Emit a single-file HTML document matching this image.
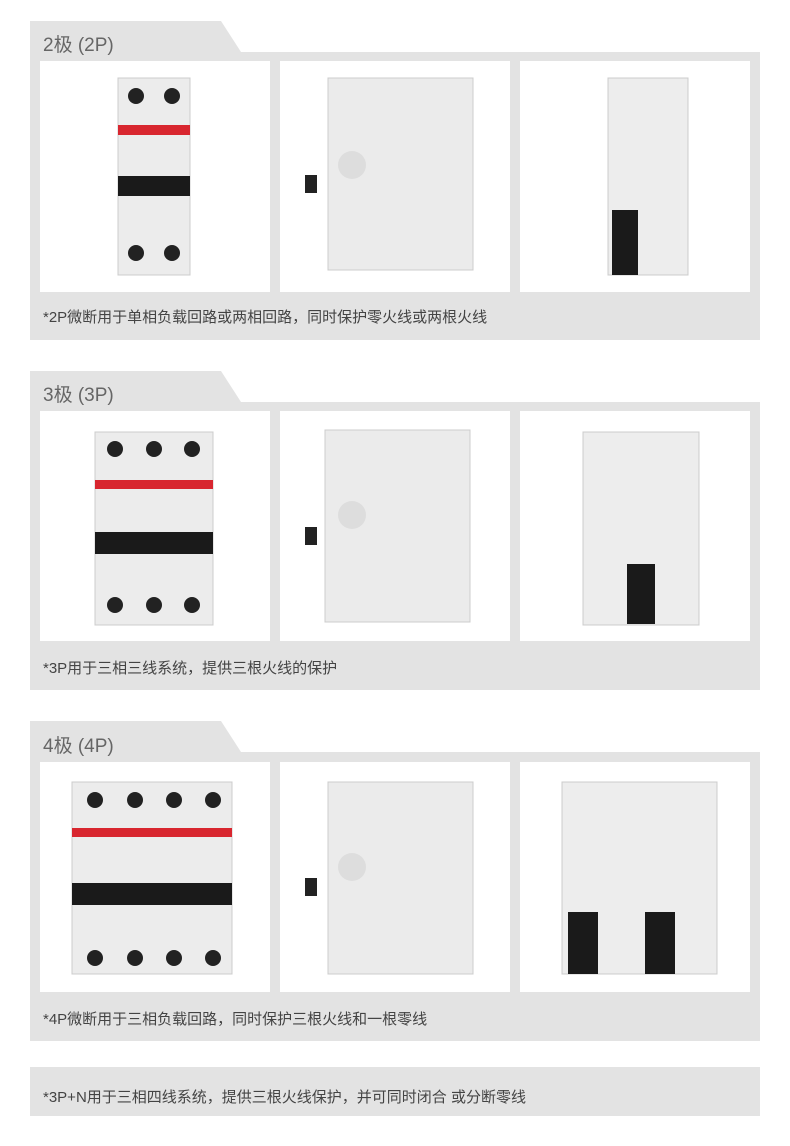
<!DOCTYPE html>
<html><head><meta charset="utf-8"><style>
body{margin:0;background:#fff;width:790px;height:1146px;position:relative;font-family:"Liberation Sans","Noto Sans CJK SC",sans-serif;overflow:hidden}
.a{position:absolute}
.tabt{font-size:19px;color:#666;}
.cap{font-size:15px;color:#444;white-space:nowrap}
</style></head><body>
<svg class="a" style="left:0;top:0" width="790" height="1146">
<g fill="#e3e3e3">
<polygon points="30,21 221,21 241,52 760,52 760,340 30,340"/>
<polygon points="30,371 221,371 241,402 760,402 760,690 30,690"/>
<polygon points="30,721 221,721 241,752 760,752 760,1041 30,1041"/>
<rect x="30" y="1067" width="730" height="49"/>
</g>
<g fill="#fff">
<rect x="40" y="61" width="230" height="231"/><rect x="280" y="61" width="230" height="231"/><rect x="520" y="61" width="230" height="231"/>
<rect x="40" y="411" width="230" height="230"/><rect x="280" y="411" width="230" height="230"/><rect x="520" y="411" width="230" height="230"/>
<rect x="40" y="762" width="230" height="230"/><rect x="280" y="762" width="230" height="230"/><rect x="520" y="762" width="230" height="230"/>
</g>
<g>
<rect x="118" y="78" width="72" height="197" fill="#ececec" stroke="#ccc"/>
<rect x="118" y="125" width="72" height="10" fill="#d8262f"/><rect x="118" y="176" width="72" height="20" fill="#1a1a1a"/>
<circle cx="136" cy="96" r="8" fill="#222"/><circle cx="172" cy="96" r="8" fill="#222"/>
<circle cx="136" cy="253" r="8" fill="#222"/><circle cx="172" cy="253" r="8" fill="#222"/>
<rect x="95" y="432" width="118" height="193" fill="#ececec" stroke="#ccc"/>
<rect x="95" y="480" width="118" height="9" fill="#d8262f"/><rect x="95" y="532" width="118" height="22" fill="#1a1a1a"/>
<circle cx="115" cy="449" r="8" fill="#222"/><circle cx="154" cy="449" r="8" fill="#222"/><circle cx="192" cy="449" r="8" fill="#222"/>
<circle cx="115" cy="605" r="8" fill="#222"/><circle cx="154" cy="605" r="8" fill="#222"/><circle cx="192" cy="605" r="8" fill="#222"/>
<rect x="72" y="782" width="160" height="192" fill="#ececec" stroke="#ccc"/>
<rect x="72" y="828" width="160" height="9" fill="#d8262f"/><rect x="72" y="883" width="160" height="22" fill="#1a1a1a"/>
<circle cx="95" cy="800" r="8" fill="#222"/><circle cx="135" cy="800" r="8" fill="#222"/><circle cx="174" cy="800" r="8" fill="#222"/><circle cx="213" cy="800" r="8" fill="#222"/>
<circle cx="95" cy="958" r="8" fill="#222"/><circle cx="135" cy="958" r="8" fill="#222"/><circle cx="174" cy="958" r="8" fill="#222"/><circle cx="213" cy="958" r="8" fill="#222"/>
</g>
<g fill="#ebebeb" stroke="#ccc">
<rect x="328" y="78" width="145" height="192"/><rect x="325" y="430" width="145" height="192"/><rect x="328" y="782" width="145" height="192"/>
</g>
<g fill="#222"><rect x="305" y="175" width="12" height="18"/><rect x="305" y="527" width="12" height="18"/><rect x="305" y="878" width="12" height="18"/></g>
<g fill="#ddd"><circle cx="352" cy="165" r="14"/><circle cx="352" cy="515" r="14"/><circle cx="352" cy="867" r="14"/></g>
<g fill="#ededed" stroke="#ccc">
<rect x="608" y="78" width="80" height="197"/><rect x="583" y="432" width="116" height="193"/><rect x="562" y="782" width="155" height="192"/>
</g>
<g fill="#1a1a1a">
<rect x="612" y="210" width="26" height="65"/><rect x="627" y="564" width="28" height="60"/>
<rect x="568" y="912" width="30" height="62"/><rect x="645" y="912" width="30" height="62"/>
</g>
</svg>
<div class="a tabt" style="left:43px;top:30px">2极 (2P)</div>
<div class="a tabt" style="left:43px;top:380px">3极 (3P)</div>
<div class="a tabt" style="left:43px;top:731px">4极 (4P)</div>
<div class="a cap" style="left:43px;top:306px">*2P微断用于单相负载回路或两相回路，同时保护零火线或两根火线</div>
<div class="a cap" style="left:43px;top:657px">*3P用于三相三线系统，提供三根火线的保护</div>
<div class="a cap" style="left:43px;top:1008px">*4P微断用于三相负载回路，同时保护三根火线和一根零线</div>
<div class="a cap" style="left:43px;top:1086px">*3P+N用于三相四线系统，提供三根火线保护，并可同时闭合 或分断零线</div>
</body></html>
